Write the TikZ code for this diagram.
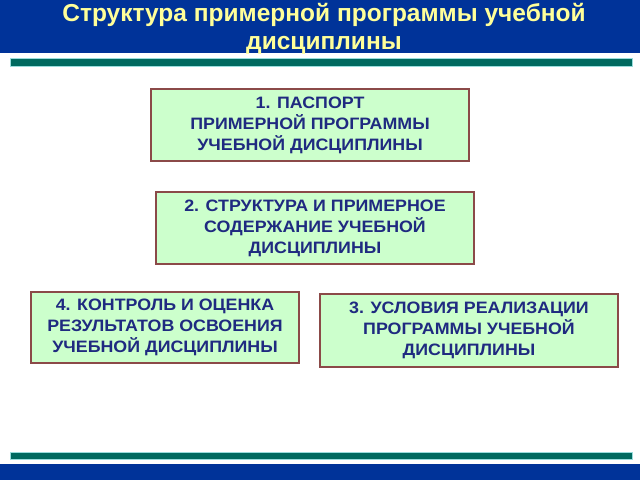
\documentclass[tikz,border=0pt]{standalone}
\usepackage{fontspec}
\setmainfont{Liberation Sans}
\newfontfamily\boxfont[FakeStretch=1.08]{Liberation Sans}
\definecolor{barblue}{HTML}{003399}
\definecolor{titleyellow}{HTML}{FFFF99}
\definecolor{teal2}{HTML}{006A60}
\definecolor{tealedge}{HTML}{99DDDD}
\definecolor{boxfill}{HTML}{CCFFCC}
\definecolor{boxedge}{HTML}{8B4A48}
\definecolor{boxtext}{HTML}{1F2A80}
\tikzset{
  card/.style={draw=boxedge, line width=1.3pt, fill=boxfill},
  cardtext/.style={text=boxtext, font=\boxfont\bfseries\fontsize{16.5}{21}\selectfont, align=center},
}
\begin{document}
\begin{tikzpicture}[x=1pt,y=-1pt]
\useasboundingbox (0,0) rectangle (640,480);
\fill[white] (0,0) rectangle (640,480);
% top bar
\fill[barblue] (0,0) rectangle (640,53);
\node[text=titleyellow, font=\bfseries\fontsize{24.5}{28}\selectfont, align=center] (title) at (324,28.5) {Структура примерной программы учебной\\дисциплины};
\draw[tealedge, fill=teal2, line width=0.6pt] (10,58) rectangle (632,66);
% bottom
\draw[tealedge, fill=teal2, line width=0.6pt] (10,452) rectangle (632,459);
\fill[barblue] (0,464) rectangle (640,480);
% boxes
\draw[card] (151,89) rectangle (469,161);
\node[cardtext] (b1) at (310,125) {1. ПАСПОРТ\\ПРИМЕРНОЙ ПРОГРАММЫ\\УЧЕБНОЙ ДИСЦИПЛИНЫ};
\draw[card] (156,192) rectangle (474,264);
\node[cardtext] (b2) at (315,228) {2. СТРУКТУРА И ПРИМЕРНОЕ\\СОДЕРЖАНИЕ УЧЕБНОЙ\\ДИСЦИПЛИНЫ};
\draw[card] (31,292) rectangle (299,363);
\node[cardtext] (b4) at (165,327.5) {4. КОНТРОЛЬ И ОЦЕНКА\\РЕЗУЛЬТАТОВ ОСВОЕНИЯ\\УЧЕБНОЙ ДИСЦИПЛИНЫ};
\draw[card] (320,294) rectangle (618,367);
\node[cardtext] (b3) at (469,330.5) {3. УСЛОВИЯ РЕАЛИЗАЦИИ\\ПРОГРАММЫ УЧЕБНОЙ\\ДИСЦИПЛИНЫ};
\end{tikzpicture}
\end{document}
